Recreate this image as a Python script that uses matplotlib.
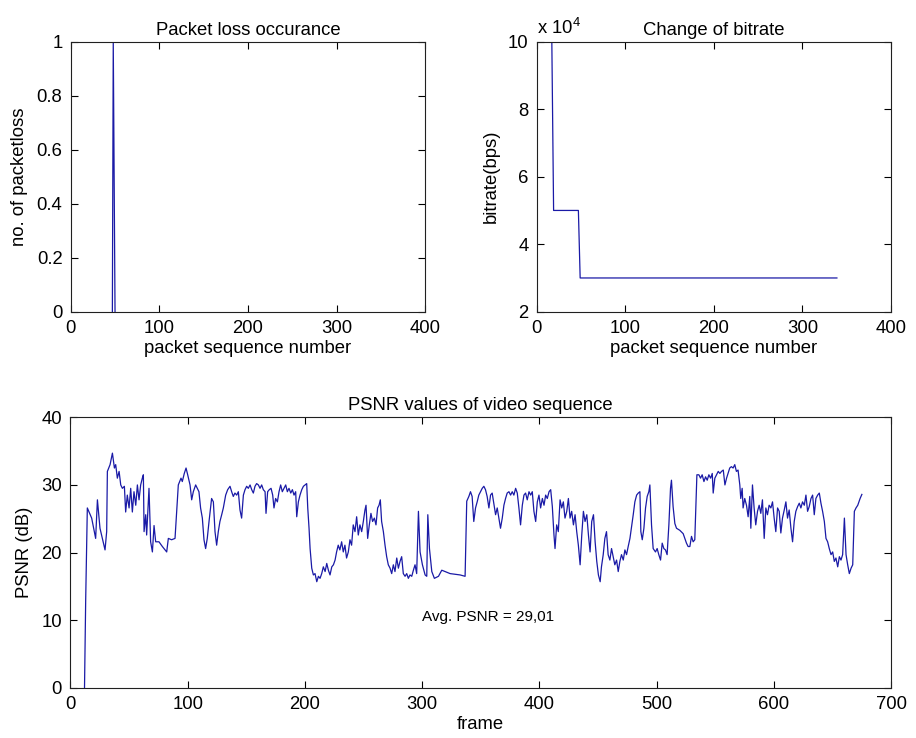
import matplotlib
matplotlib.use('Agg')
import matplotlib.pyplot as plt
from matplotlib.ticker import FuncFormatter

plt.rcParams['font.family'] = ['Liberation Sans', 'DejaVu Sans']
plt.rcParams['mathtext.fontset'] = 'custom'
plt.rcParams['mathtext.rm'] = 'Liberation Sans'

# packet loss occurrence (packet index, losses)
loss_seq = [47, 48, 49, 50]
loss_count = [0, 1, 0.5, 0]

# bitrate steps (packet index, bps)
bitrate_seq = [17, 18, 19, 47, 48, 49, 339]
bitrate_bps = [100000, 75000, 50000, 50000, 40000, 30000, 30000]

# PSNR per frame
psnr_frame = [
    12, 13, 14.4, 18.1, 21.5, 23, 25.2, 29.5, 30.9, 31.5, 33.8, 35.8, 37.5, 38.6, 40,
    41.5, 42.9, 44.3, 46, 47.1, 48.5, 50, 51.4, 52.8, 54.2, 55.7, 57.1, 58.5, 59.9,
    61.3, 62.2, 62.8, 64.2, 65, 67, 68.4, 69.9, 71.3, 72.7, 75.5, 78.4, 82.1, 83.5,
    86.3, 89.2, 92, 94.3, 95.4, 97.1, 98.6, 100, 102, 103.4, 104.8, 106.8, 109.6, 111,
    112.5, 113.9, 115.3, 116.7, 118.2,
    120.4, 121.9, 123.3, 124.7, 126.1, 127.5, 129, 130.4, 132.4, 134.1, 136.1, 137.5,
    138.9, 140.3, 141.8, 143.2, 144.6, 146, 147.5, 148.9, 150.3, 151.7, 153.2, 154.6,
    156, 157.4, 158.8, 160.3, 161.7, 163.1, 164.5, 166, 166.8, 168.2, 169.6, 171.1,
    172.5, 173.6, 175, 176.5, 177.9, 179.3, 180.7, 182.2, 183.6, 185, 186.4, 187.9,
    189.3, 190.7, 192.1, 193, 194.4, 195.8, 197.3, 198.7, 200.1, 201.5, 202.4, 203.5,
    204.4, 205.8, 207.2, 208.6, 210.1, 211.5, 212.9, 214.3, 215.7, 217.2, 218.6, 220,
    221.4, 222.9, 224.3, 225.7,
    227, 228.4, 229.8, 231.3, 232.7, 234.1, 235.5, 237, 238.4, 239.8, 241.2, 242.7,
    244.1, 245.5, 246.9, 248.4, 249.8, 251.2, 252.1, 253.5, 254.9, 256.3, 257.7, 259.2,
    260.6, 262, 263.2, 264.3, 265.4, 266.9, 268.3, 269.7, 271.1, 272.6, 274, 275.4,
    276.8, 278.3, 279.7, 281.1, 282.5, 283.9, 285.4, 286.8, 288.2, 289.6, 291.1, 292.5,
    293.9, 295.3, 296.8, 298.2, 300.2, 302.5, 303.9, 304.8, 306.2, 308.2, 310.4, 313.9,
    316.7, 319.6, 323.8, 328.1, 332.4, 336.6, 338,
    339.8, 341.2, 342.6, 344, 345.5, 346.9, 348.3, 349.7, 351.2, 352.6, 354, 355.4,
    356.9, 358.3, 359.7, 361.1, 362.6, 364, 365.4, 366.8, 368.3, 369.7, 371.1, 372.5,
    374, 375.4, 376.8, 378.2, 379.7, 381.1, 382.5, 383.9, 385.4, 386.8, 388.2, 389.6,
    391.1, 392.5, 393.9, 395.3, 396.8, 398.2, 399.6, 401, 402.5, 403.9, 405.3, 406.7,
    408.2, 409.6, 411, 412.4, 413.3, 414.7, 416.1, 417.6, 419, 420.4, 421.8, 423.3,
    424.7, 426.1, 427.5, 429, 430.4, 431.8, 433.2, 434.7, 436.1, 437.5, 438.9, 440.4,
    441.8, 443.2, 444.6, 446.1, 447.5, 448.9, 450.3, 451.8,
    452.9, 454.4, 455.8, 457.2, 458.6, 460.1, 461.5, 462.9, 464.3, 465.8, 467.2, 468.6,
    470, 471.5, 472.9, 474.3, 475.7, 477.2, 478.6, 480, 481.4, 482.9, 484.3, 485.7,
    486.5, 487.7, 489.1, 490.5, 491.9, 493.3, 494.2, 495.6, 497, 499, 500.4, 501.8,
    503.3, 504.7, 506.1, 507.5, 508.9, 510.4, 511.8, 512.6, 514, 515.5, 516.9, 519.7,
    522.6, 524, 525.4, 526.8, 528.3, 529.7, 531.1, 532.5, 533.4, 534.3, 536, 537.4,
    538.8, 540.3, 541.7, 543.1, 544.5, 546, 547.4, 548.2, 549.6, 551.1, 552.5, 553.9,
    555.3, 556.8, 558.2, 559.6,
    560.9, 562.3, 563.7, 565.2, 566.6, 568, 569.4, 570.9, 571.7, 572.9, 573.7, 575.1,
    576.6, 578, 579.4, 580.3, 581.7, 583.1, 584.5, 586, 587.4, 588.8, 590.2, 591.7,
    593.1, 594.5, 595.9, 597.4, 598.8, 600.2, 601.6, 603.1, 604.5, 605.9, 607.3, 608.8,
    610.2, 611.6, 613, 614.5, 615.9, 617.3, 618.7, 620.2, 621.6, 623, 624.4, 625.9,
    627.3, 628.7, 630.1, 631.6, 633, 634.4, 635.8, 637.3, 638.7, 640.1, 641.5, 643,
    644.4, 645.8, 647.2, 648.7, 650.1, 651.5, 652.9, 654.4, 655.8, 657.2, 658.6, 660.1,
    661.5, 662.9, 664.3, 665.8, 667.2, 668.6, 670, 671.5, 673.5, 675,
]
psnr_db = [
    0, 13, 26.6, 25.1, 22.1, 27.8, 23.6, 20.4, 23.1, 32, 33, 34.7, 32.5, 33, 31,
    32, 30, 29.5, 29.8, 26, 28.5, 26.6, 29.5, 26, 29, 27, 30, 27.8, 30,
    31, 31.5, 23.1, 25.6, 22.6, 29.5, 21.6, 20.1, 24, 21.6, 21.6, 20.9, 20.1, 22.1,
    21.9, 22.1, 30, 31, 30.5, 31.7, 32.5, 31.5, 30, 27.8, 29, 30, 29, 26.6,
    25.1, 21.9, 20.6, 22.1, 24.6,
    28, 27.5, 23.1, 21.1, 23.1, 24.6, 25.6, 26.6, 28.5, 29.3, 29.8, 29,
    28.3, 28.8, 28.5, 29, 26.3, 25.1, 28.5, 29.3, 29.8, 29.5, 30, 29.3,
    28.8, 29.8, 30.2, 30, 29.5, 30, 29.3, 29, 25.8, 29, 29.3, 29.5,
    28.5, 26.6, 28, 27.5, 29, 30, 29, 29.5, 30, 29, 29.5, 28.8,
    29.3, 28.5, 29, 25.3, 27.5, 28.5, 29.3, 29.8, 30, 30.2, 26.6, 23.6,
    20.6, 17.7, 16.7, 16.9, 15.7, 16.5, 16.2, 16.9, 17.9, 17.2, 18.4, 17.4,
    16.7, 17.9, 18.2, 18.9,
    20.1, 21.1, 20.4, 21.6, 20.1, 21.1, 19.2, 20.1, 21.9, 21.1, 24.1, 23.1,
    25.3, 22.6, 24.1, 23.1, 24.6, 26.3, 27, 22.1, 24.1, 25.8, 24.6, 25.1,
    24.1, 26.6, 27, 27.8, 24.6, 23.1, 21.1, 19.4, 18.2, 17.7, 16.9, 18.2,
    17.2, 19.2, 17.7, 18.7, 19.4, 16.9, 16.5, 16.9, 16.2, 16.7, 16.5, 17.4,
    18.2, 16.9, 26.1, 20.1, 18.2, 16.7, 16.5, 25.6, 20.6, 17.2, 16.2, 16.5,
    17.4, 17.2, 16.9, 16.8, 16.7, 16.5, 27.6,
    28.3, 29, 28.3, 24.6, 26.6, 27.5, 28.5, 29, 29.5, 29.8, 29.3, 28.3,
    26.6, 28.5, 28.8, 27.3, 25.6, 26.6, 25.1, 23.6, 25.1, 27, 28, 28.8,
    29, 28.5, 29, 28.5, 29.5, 28.8, 26.6, 24.1, 27, 28.5, 28.8, 27.8,
    29, 28.5, 29, 26.1, 24.6, 27.5, 28.5, 26.6, 28, 27, 28.5, 28,
    29, 29.3, 26.8, 22.6, 20.6, 24.1, 23.1, 27.8, 26.6, 27.5, 25.1, 26.1,
    28, 25.1, 26.1, 24.1, 25.6, 23.1, 21.1, 18.2, 22.6, 26.1, 24.6, 25.6,
    22.6, 20.1, 24.6, 25.6, 21.6, 18.7, 16.7, 15.7,
    17.9, 19.7, 22.1, 23.1, 19.7, 18.9, 20.6, 19.4, 18.2, 18.9, 17.2, 18.7,
    19.7, 18.9, 20.4, 19.7, 20.9, 22.1, 23.8, 25.6, 27.5, 28.5, 28.8, 29,
    23.1, 21.9, 23.6, 26.6, 28.3, 29, 30, 24.1, 20.6, 20.1, 20.6, 19.7,
    18.9, 21.4, 20.6, 20.4, 19.7, 24.1, 29.5, 30.7, 26.8, 24.3, 23.6, 23.3,
    22.8, 22.1, 21.4, 20.9, 20.9, 22.4, 21.6, 21.9, 26.6, 31.5, 31.5, 31,
    31.5, 30.5, 31.2, 30.7, 31.5, 31, 31.7, 28.8, 31, 31.5, 32, 31.7,
    32, 32.2, 30, 31,
    31.7, 32.5, 32.7, 32.5, 33, 32, 32.2, 30, 28, 29.5, 26.6, 28,
    27, 25.3, 28.3, 23.6, 30, 26.6, 24.1, 26.1, 27, 25.8, 27.8, 22.1,
    26.6, 25.6, 27, 26.6, 27.5, 25.1, 23.1, 26.6, 26.1, 22.9, 25.1, 26.3,
    27.5, 25.1, 26.3, 23.6, 21.6, 24.6, 26.1, 26.8, 27.3, 26.6, 27.5, 27,
    28.5, 26.1, 26.8, 28, 28.5, 25.6, 28, 28.5, 28.8, 27.3, 26.1, 24.6,
    22.1, 21.6, 20.6, 19.7, 20.1, 18.7, 19.2, 17.9, 19.4, 18.9, 19.7, 25.1,
    19.7, 18.2, 16.9, 17.7, 18.2, 26.1, 26.6, 27, 28, 28.6,
]
avg_psnr_label = 'Avg. PSNR = 29,01'

LINE = '#1a1aa6'
FS = 13.3


def style_axes(ax):
    for s in ax.spines.values():
        s.set_linewidth(0.8)
        s.set_color('#202020')
    ax.tick_params(direction='in', top=True, right=True, length=5, width=0.8,
                   labelsize=FS, pad=6)


fig = plt.figure(figsize=(9.16, 7.38), dpi=100)

# Packet loss
ax1 = fig.add_axes([0.0772, 0.5776, 0.387, 0.366])
ax1.plot(loss_seq, loss_count, color=LINE, linewidth=0.9)
ax1.set_xlim(0, 400)
ax1.set_ylim(0, 1)
ax1.set_xticks([0, 100, 200, 300, 400])
ax1.set_yticks([0, 0.2, 0.4, 0.6, 0.8, 1])
ax1.set_yticklabels(['0', '0.2', '0.4', '0.6', '0.8', '1'])
ax1.set_title('Packet loss occurance', fontsize=FS, pad=5)
ax1.set_xlabel('packet sequence number', fontsize=FS, labelpad=2)
ax1.set_ylabel('no. of packetloss', fontsize=FS, labelpad=6)
style_axes(ax1)

# Bitrate
ax2 = fig.add_axes([0.586, 0.5776, 0.3866, 0.366])
ax2.plot(bitrate_seq, bitrate_bps, color=LINE, linewidth=0.9)
ax2.set_xlim(0, 400)
ax2.set_ylim(20000, 100000)
ax2.set_xticks([0, 100, 200, 300, 400])
ax2.set_yticks([20000, 40000, 60000, 80000, 100000])
ax2.yaxis.set_major_formatter(FuncFormatter(lambda v, p: '%d' % round(v / 1e4)))
ax2.text(0.0, 1.012, r'x 10$^{4}$', transform=ax2.transAxes, fontsize=FS,
         ha='left', va='bottom')
ax2.set_title('Change of bitrate', fontsize=FS, pad=5)
ax2.set_xlabel('packet sequence number', fontsize=FS, labelpad=2)
ax2.set_ylabel('bitrate(bps)', fontsize=FS, labelpad=6)
style_axes(ax2)

# PSNR
ax3 = fig.add_axes([0.0769, 0.0678, 0.896, 0.3668])
ax3.plot(psnr_frame, psnr_db, color=LINE, linewidth=0.9)
ax3.set_xlim(0, 700)
ax3.set_ylim(0, 40)
ax3.set_xticks(range(0, 701, 100))
ax3.set_yticks(range(0, 41, 10))
ax3.text(300, 10.5, avg_psnr_label, fontsize=11, ha='left', va='center')
ax3.set_title('PSNR values of video sequence', fontsize=FS, pad=5)
ax3.set_xlabel('frame', fontsize=FS, labelpad=2)
ax3.set_ylabel('PSNR (dB)', fontsize=FS, labelpad=6)
style_axes(ax3)

fig.savefig('out.png', dpi=100, facecolor='white')
